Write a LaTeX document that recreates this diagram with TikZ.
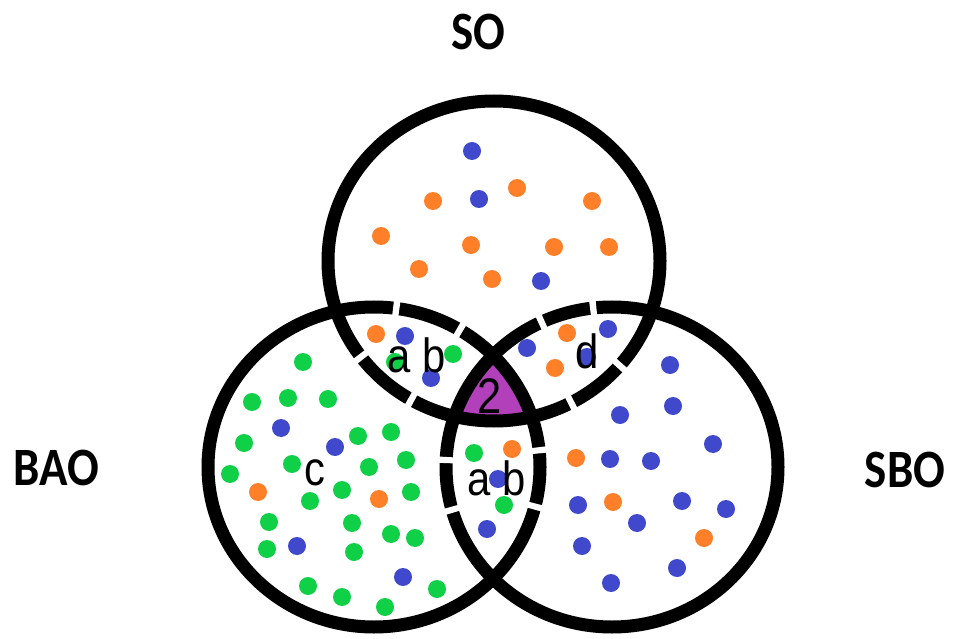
\documentclass[tikz,border=0pt]{standalone}
\usepackage{fontspec}
\usepackage{graphicx}
\setmainfont{Liberation Sans}
\newfontfamily\setfont{Carlito}
\usetikzlibrary{positioning}

\definecolor{dotblue}{RGB}{64,72,204}
\definecolor{dotorange}{RGB}{255,128,40}
\definecolor{dotgreen}{RGB}{16,208,72}
\definecolor{corepurple}{RGB}{178,64,186}

\newcommand{\narrow}[1]{\scalebox{0.87}[1]{#1}}

\begin{document}
\begin{tikzpicture}[
  x=1pt, y=-1pt,
  ring/.style={draw=black, line width=13pt},
  gap/.style={draw=white, line width=16pt},
  setlbl/.style={font=\setfont\bfseries\fontsize{54}{54}\selectfont, inner sep=0pt},
  zone/.style={font=\fontsize{48}{48}\selectfont, inner sep=0pt, anchor=base},
  bdot/.style={fill=dotblue},
  odot/.style={fill=dotorange},
  gdot/.style={fill=dotgreen},
]
\useasboundingbox (0,0) rectangle (956,639);

% --- Set centres ---
\coordinate (cT) at (494,261);
\coordinate (cL) at (374,467);
\coordinate (cR) at (612,467);

% --- Common part of all three ---
\begin{scope}
  \clip (cT) ellipse[x radius=166, y radius=160];
  \clip (cL) ellipse[x radius=166, y radius=160];
  \fill[corepurple] (cR) ellipse[x radius=166, y radius=160];
\end{scope}

% --- Rings ---
\draw[ring] (cT) ellipse[x radius=166, y radius=160];
\draw[ring] (cL) ellipse[x radius=166, y radius=160];
\draw[ring] (cR) ellipse[x radius=166, y radius=160];

% breaks in the inner arcs
\foreach \c/\a in {L/-82.3, L/-58.9, T/143.2, T/119.9, R/-115.1, R/-96.5,
                   T/62.3, T/40.8, R/182.5, R/164.5, L/-6, L/14.3}
  \draw[gap] (c\c) ++(\a-1.1:166 and 160)
    arc[start angle=\a-1.1, delta angle=2.2, x radius=166, y radius=160];

% --- Dots: SO ---
\foreach \p in {(472,151),(479,199),(541,281)}
  \fill[bdot] \p circle[radius=9];
\foreach \p in {(433,201),(517,188),(592,201),(381,236),(471,245),
                (554,247),(609,247),(419,269),(492,279)}
  \fill[odot] \p circle[radius=9];

% --- Dots: SO and BAO ---
\fill[odot] (376,334) circle[radius=9];
\fill[bdot] (405,336) circle[radius=9];
\fill[gdot] (453,354) circle[radius=9];
\fill[gdot] (395,362) circle[radius=9];
\fill[bdot] (431,378) circle[radius=9];

% --- Dots: SO and SBO ---
\foreach \p in {(527,348),(608,329),(587,357)}
  \fill[bdot] \p circle[radius=9];
\foreach \p in {(567,333),(555,368)}
  \fill[odot] \p circle[radius=9];

% --- Dots: BAO and SBO ---
\fill[gdot] (474,453) circle[radius=9];
\fill[odot] (512,449) circle[radius=9];
\fill[bdot] (498,479) circle[radius=9];
\fill[gdot] (504,505) circle[radius=9];
\fill[bdot] (487,529) circle[radius=9];

% --- Dots: SBO ---
\foreach \p in {(670,365),(673,406),(620,415),(713,444),(610,459),(651,461),
                (578,505),(682,501),(726,509),(637,523),(582,546),(677,568),(611,583)}
  \fill[bdot] \p circle[radius=9];
\foreach \p in {(576,458),(613,502),(704,538)}
  \fill[odot] \p circle[radius=9];

% --- Dots: BAO ---
\foreach \p in {(303,362),(252,402),(288,398),(328,399),(244,443),(358,436),
                (391,432),(292,464),(369,467),(406,460),(230,474),(310,501),
                (342,490),(411,492),(269,522),(352,523),(391,534),(415,538),
                (267,549),(354,552),(308,586),(342,597),(385,607),(437,589)}
  \fill[gdot] \p circle[radius=9];
\foreach \p in {(281,428),(335,447),(297,546),(403,577)}
  \fill[bdot] \p circle[radius=9];
\foreach \p in {(258,492),(379,499)}
  \fill[odot] \p circle[radius=9];

% --- Region letters ---
\node[zone] (abTL) at (417,372) {\narrow{a b}};
\node[zone] (dTR)  at (587,368) {\narrow{d}};
\node[zone, font=\fontsize{50}{50}\selectfont] (core) at (490,413) {\narrow{2}};
\node[zone] (abLR) at (497,495) {\narrow{a b}};
\node[zone] (cL0)  at (315,485) {\narrow{c}};

% --- Set names ---
\node[setlbl] (so)  at (478,32)  {\narrow{SO}};
\node[setlbl] (bao) at (56,468)  {\narrow{BAO}};
\node[setlbl] (sbo) at (905,470) {\narrow{SBO}};
\end{tikzpicture}
\end{document}
